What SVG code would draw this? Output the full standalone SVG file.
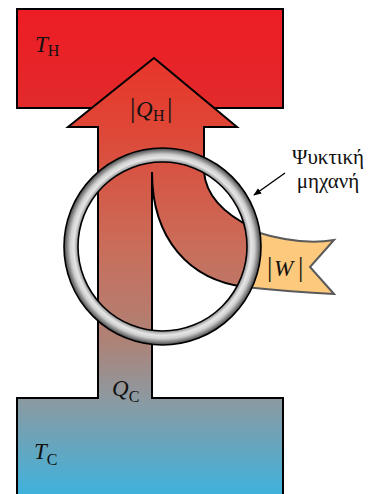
<svg xmlns="http://www.w3.org/2000/svg" width="382" height="494" viewBox="0 0 382 494">
<style>
.lbl{font-family:"Liberation Serif","Times New Roman",serif;fill:#111}
.it{font-style:italic}
.sub{font-size:16px}
.bar{font-size:27px}
</style>
<defs>
<linearGradient id="hot" gradientUnits="userSpaceOnUse" x1="0" y1="9" x2="0" y2="108">
<stop offset="0" stop-color="#EE1C25"/>
<stop offset="1" stop-color="#E22A2B"/>
</linearGradient>
<linearGradient id="flow" gradientUnits="userSpaceOnUse" x1="0" y1="58" x2="0" y2="494">
<stop offset="0" stop-color="#E8352A"/>
<stop offset="0.158" stop-color="#DF4636"/>
<stop offset="0.44" stop-color="#C96E5B"/>
<stop offset="0.647" stop-color="#AE8276"/>
<stop offset="0.78" stop-color="#8D99A0"/>
<stop offset="1" stop-color="#3FB2DC"/>
</linearGradient>
<radialGradient id="tube" gradientUnits="userSpaceOnUse" cx="162.5" cy="246.5" r="98.5">
<stop offset="0.858" stop-color="#8f8f8f"/>
<stop offset="0.9" stop-color="#e6e6e6"/>
<stop offset="0.935" stop-color="#cfcfcf"/>
<stop offset="1" stop-color="#444"/>
</radialGradient>
<marker id="ah" viewBox="0 0 10 10" refX="9" refY="5" markerWidth="8" markerHeight="8" markerUnits="userSpaceOnUse" orient="auto">
<path d="M0,1 L10,5 L0,9 Z" fill="#000"/>
</marker>
</defs>

<g id="hot-reservoir">
<rect x="17" y="9" width="266" height="99" fill="url(#hot)" stroke="#000" stroke-width="2"/>
<text class="lbl" x="35" y="52" font-size="23"><tspan class="it">T</tspan><tspan class="sub" dy="4">H</tspan></text>
</g>

<g id="connectors">
<g id="heat-flow">
<path d="M154,58 L237,127 L204,127 L204,172 C206,196 224,214 253,228 A92,92 0 0 1 245,287 C190,280 152,240 152,172 L152,398 L283,398 L283,500 L17,500 L17,398 L98,398 L98,127 L68,127 Z" fill="url(#flow)" stroke="#000" stroke-width="2" stroke-linejoin="miter"/>
</g>
<g id="work-flow">
<path d="M253,231 Q300,246 334,240 L310,267 L334,294 Q292,292 245,287 A92,92 0 0 0 253,231 Z" fill="#FDC97C" stroke="#5a5a5a" stroke-width="2"/>
</g>
<line x1="285" y1="173" x2="254" y2="195" stroke="#000" stroke-width="1.4" marker-end="url(#ah)"/>
</g>

<g id="engine">
<path d="M261,246.5 A98.5,98.5 0 1 0 64,246.5 A98.5,98.5 0 1 0 261,246.5 Z M247,246.5 A84.5,84.5 0 1 0 78,246.5 A84.5,84.5 0 1 0 247,246.5 Z" fill="url(#tube)" fill-rule="evenodd" stroke="#000" stroke-width="1.6"/>
<text class="lbl" x="328" y="164" font-size="21" text-anchor="middle">Ψυκτική</text>
<text class="lbl" x="328" y="188" font-size="21" text-anchor="middle">μηχανή</text>
</g>

<g id="labels">
<text class="lbl" y="117" font-size="23"><tspan class="bar" x="130">|</tspan><tspan class="it" x="136">Q</tspan><tspan class="sub" x="153" dy="4">H</tspan><tspan class="bar" x="167" dy="-4">|</tspan></text>
<text class="lbl" y="276" font-size="23"><tspan class="bar" x="267">|</tspan><tspan class="it" x="274">W</tspan><tspan class="bar" x="298">|</tspan></text>
<text class="lbl" x="112" y="396" font-size="23"><tspan class="it">Q</tspan><tspan class="sub" dy="6">C</tspan></text>
</g>

<g id="cold-reservoir">
<text class="lbl" x="34" y="459" font-size="23"><tspan class="it">T</tspan><tspan class="sub" dy="6">C</tspan></text>
</g>
</svg>
